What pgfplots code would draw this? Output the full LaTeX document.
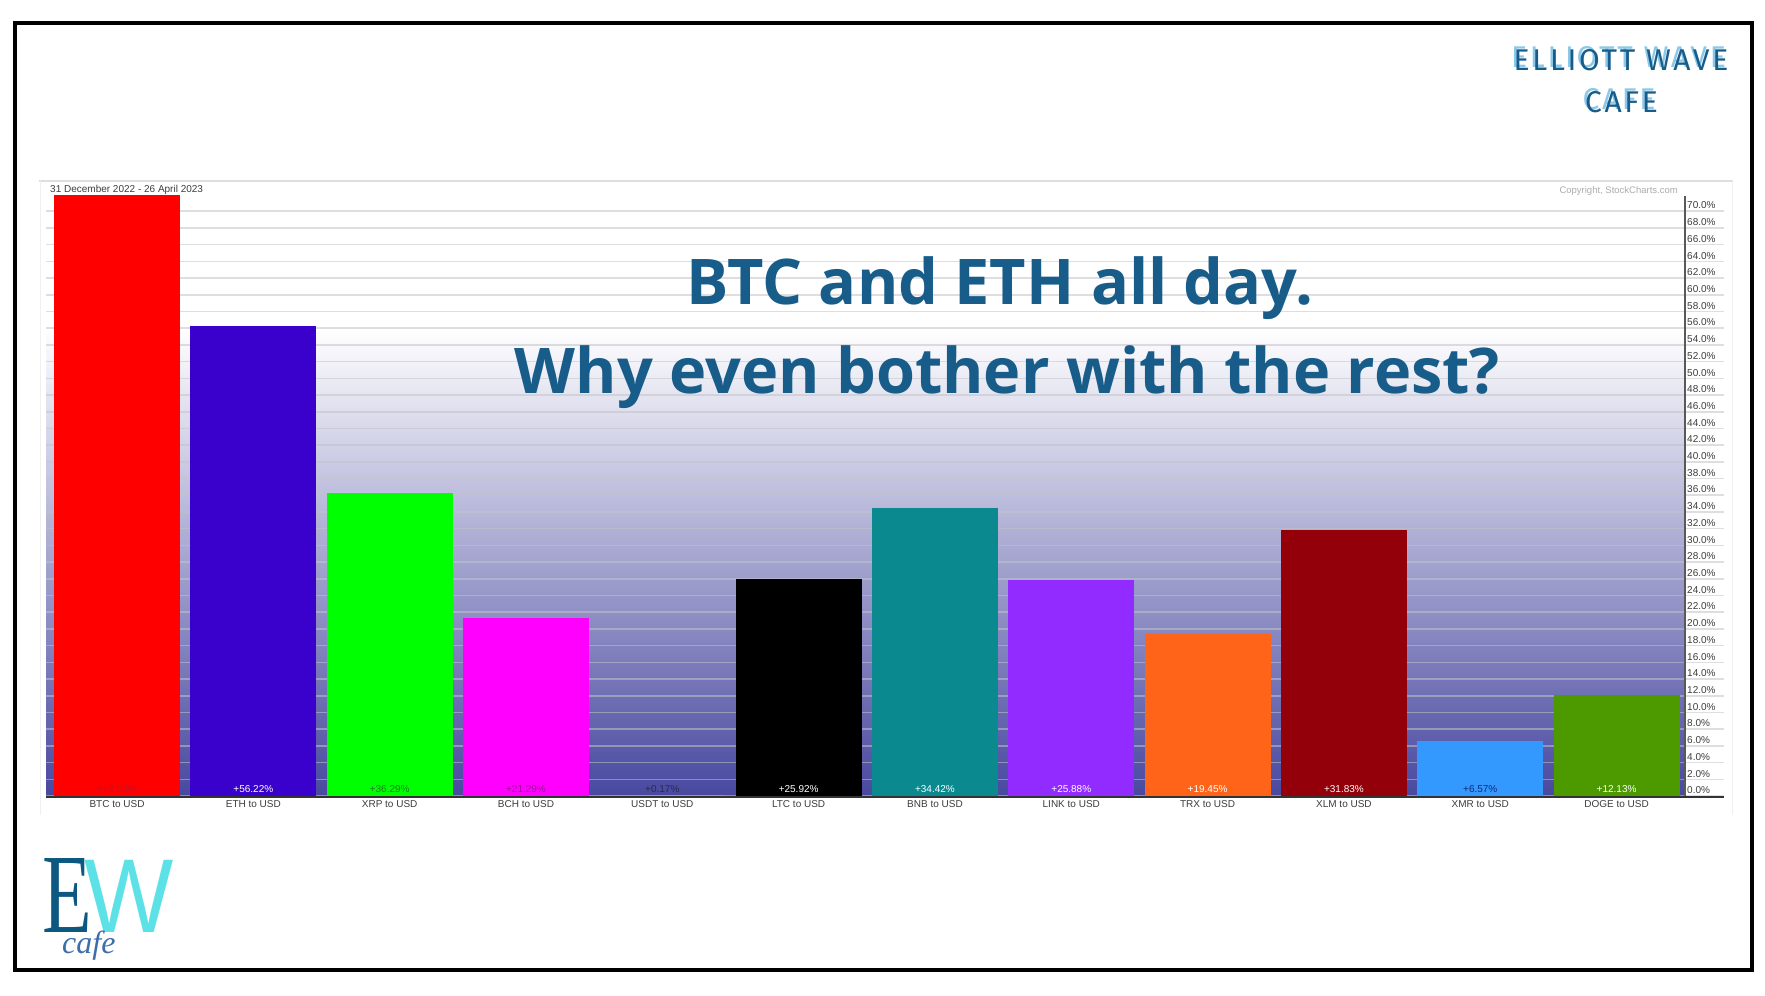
\documentclass[border=0pt]{standalone}
\usepackage{fontspec}
\setmainfont{Liberation Sans}
\newfontfamily\titlefont{Open Sans}
\newfontfamily\logofont{Fira Sans}[LetterSpace=9]
\newfontfamily\seriffont{Liberation Serif}
\usepackage{pgfplots}
\pgfplotsset{compat=1.18}

\definecolor{cBTC}{RGB}{255,0,0}
\definecolor{cETH}{RGB}{58,0,204}
\definecolor{cXRP}{RGB}{0,255,0}
\definecolor{cBCH}{RGB}{255,0,255}
\definecolor{cUSDT}{RGB}{30,200,230}
\definecolor{cLTC}{RGB}{0,0,0}
\definecolor{cBNB}{RGB}{10,138,142}
\definecolor{cLINK}{RGB}{146,43,255}
\definecolor{cTRX}{RGB}{255,100,25}
\definecolor{cXLM}{RGB}{147,0,10}
\definecolor{cXMR}{RGB}{51,153,255}
\definecolor{cDOGE}{RGB}{76,153,0}
\definecolor{tBTC}{RGB}{185,20,50}
\definecolor{tXRP}{RGB}{20,130,20}
\definecolor{tBCH}{RGB}{150,20,140}
\definecolor{tUSDT}{RGB}{40,40,80}
\definecolor{tXMR}{RGB}{20,40,120}
\definecolor{bgbot}{RGB}{72,72,160}
\definecolor{gridc}{RGB}{195,195,200}
\definecolor{labgray}{RGB}{60,60,60}
\definecolor{titleblue}{RGB}{24,92,138}
\definecolor{logoshadow}{RGB}{140,200,232}
\definecolor{ewdark}{RGB}{12,88,128}
\definecolor{ewcyan}{RGB}{92,225,230}
\definecolor{ewblue}{RGB}{60,110,170}

\pgfplotsset{
  mybar/.style={ybar, bar width=0.924, bar shift=0pt, draw=none},
  lbl/.style={draw=none, mark=*, mark size=0pt, mark options={draw=none, fill=none},
    point meta=explicit,
    nodes near coords={+\pgfmathprintnumber[fixed,fixed zerofill,precision=2]{\pgfplotspointmeta}\%},
    nodes near coords style={anchor=south, inner sep=0pt, yshift=3.5pt, font=\fontsize{10}{10}\selectfont}},
}

\begin{document}
\begin{tikzpicture}[x=1pt,y=1pt]
\path (0,0) rectangle (1765,-996);
% panel border
\draw[black!13, line width=2.5pt] (39,-181) -- (1733,-181);
\draw[black!6, line width=1pt] (40,-181) -- (40,-815);
\draw[black!6, line width=1pt] (1732,-181) -- (1732,-815);

\begin{axis}[
  at={(46pt,-796pt)}, anchor=south west,
  scale only axis, width=1678pt, height=614pt,
  xmin=-0.521, xmax=11.788, ymin=0, ymax=73.5,
  set layers, clip=false,
  axis line style={draw=none}, major tick length=0pt,
  ytick={0,2,...,70}, yticklabel pos=right,
  /pgf/number format/assume math mode=true,
  yticklabel={\pgfmathprintnumber[fixed,fixed zerofill,precision=1]{\tick}\%},
  yticklabel style={anchor=south west, inner sep=0pt, xshift=-37pt, yshift=2pt,
    font=\fontsize{10}{10}\selectfont, text=labgray},
  ymajorgrids,
  major grid style={draw=gridc, draw opacity=0.55, line width=1.6pt},
  xtick={0,1,2,3,4,5,6,7,8,9,10,11},
  xticklabels={BTC to USD, ETH to USD, XRP to USD, BCH to USD, USDT to USD, LTC to USD, BNB to USD, LINK to USD, TRX to USD, XLM to USD, XMR to USD, DOGE to USD},
  xticklabel style={anchor=north, inner sep=0pt, yshift=-4.5pt,
    font=\fontsize{10}{10}\selectfont, text=labgray},
]
\begin{pgfonlayer}{axis background}
\fill[top color=white, bottom color=bgbot] (axis cs:-0.521,0) rectangle (axis cs:11.502,56);
\end{pgfonlayer}

\draw[black!80, line width=1.5pt] ([yshift=-0.75pt]rel axis cs:0,0) -- ([yshift=-0.75pt]rel axis cs:1,0);

\addplot[mybar, fill=cBTC]  coordinates {(0,72.00)};
\addplot[mybar, fill=cETH]  coordinates {(1,56.22)};
\addplot[mybar, fill=cXRP]  coordinates {(2,36.29)};
\addplot[mybar, fill=cBCH]  coordinates {(3,21.29)};
\addplot[mybar, fill=cUSDT] coordinates {(4,0.17)};
\addplot[mybar, fill=cLTC]  coordinates {(5,25.92)};
\addplot[mybar, fill=cBNB]  coordinates {(6,34.42)};
\addplot[mybar, fill=cLINK] coordinates {(7,25.88)};
\addplot[mybar, fill=cTRX]  coordinates {(8,19.45)};
\addplot[mybar, fill=cXLM]  coordinates {(9,31.83)};
\addplot[mybar, fill=cXMR]  coordinates {(10,6.57)};
\addplot[mybar, fill=cDOGE] coordinates {(11,12.13)};

\addplot[lbl, nodes near coords style={text=tBTC}]  coordinates {(0,0) [72.00]};
\addplot[lbl, nodes near coords style={text=white}] coordinates {(1,0) [56.22]};
\addplot[lbl, nodes near coords style={text=tXRP}]  coordinates {(2,0) [36.29]};
\addplot[lbl, nodes near coords style={text=tBCH}]  coordinates {(3,0) [21.29]};
\addplot[lbl, nodes near coords style={text=tUSDT}] coordinates {(4,0) [0.17]};
\addplot[lbl, nodes near coords style={text=white}] coordinates {(5,0) [25.92]};
\addplot[lbl, nodes near coords style={text=white}] coordinates {(6,0) [34.42]};
\addplot[lbl, nodes near coords style={text=white}] coordinates {(7,0) [25.88]};
\addplot[lbl, nodes near coords style={text=white}] coordinates {(8,0) [19.45]};
\addplot[lbl, nodes near coords style={text=white}] coordinates {(9,0) [31.83]};
\addplot[lbl, nodes near coords style={text=tXMR}]  coordinates {(10,0) [6.57]};
\addplot[lbl, nodes near coords style={text=white}] coordinates {(11,0) [12.13]};

\draw[black!65, line width=1.2pt] (axis cs:11.502,0) -- (axis cs:11.502,71.8);
\end{axis}

% chart header texts
\node[anchor=base west, inner sep=0pt, font=\fontsize{10}{10}\selectfont, text=labgray] at (50,-192) {31 December 2022 - 26 April 2023};
\node[anchor=base east, inner sep=0pt, font=\fontsize{9.5}{10}\selectfont, text=black!33] at (1678,-193) {Copyright, StockCharts.com};

% title
\node[anchor=base, inner sep=0pt, text=titleblue, font=\titlefont\bfseries\fontsize{63}{63}\selectfont] at (1000,-304) {BTC and ETH all day.};
\node[anchor=base, inner sep=0pt, text=titleblue, font=\titlefont\bfseries\fontsize{63}{63}\selectfont] at (1007.5,-393) {Why even bother with the rest?};

% logo top right
\node[anchor=base, inner sep=0pt, text=logoshadow, font=\logofont\fontsize{30}{30}\selectfont] at (1618.5,-67.5) {ELLIOTT WAVE};
\node[anchor=base, inner sep=0pt, text=titleblue, font=\logofont\fontsize{30}{30}\selectfont] at (1621,-70) {ELLIOTT WAVE};
\node[anchor=base, inner sep=0pt, text=logoshadow, font=\logofont\fontsize{30}{30}\selectfont] at (1619,-109.5) {CAFE};
\node[anchor=base, inner sep=0pt, text=titleblue, font=\logofont\fontsize{30}{30}\selectfont] at (1621.5,-112) {CAFE};

% logo bottom left
\node[anchor=base west, inner sep=0pt, text=ewdark, font=\seriffont\fontsize{113}{113}\selectfont, xscale=0.72] at (42,-932) {E};
\node[anchor=base west, inner sep=0pt, text=ewcyan, font=\fontsize{105}{105}\selectfont, xscale=0.9] at (84,-932) {W};
\node[anchor=base west, inner sep=0pt, text=ewblue, font=\seriffont\itshape\fontsize{32}{32}\selectfont] at (62,-953) {cafe};

% outer frame
\draw[black, line width=4pt] (15,-23) rectangle (1752,-970);
\end{tikzpicture}
\end{document}
